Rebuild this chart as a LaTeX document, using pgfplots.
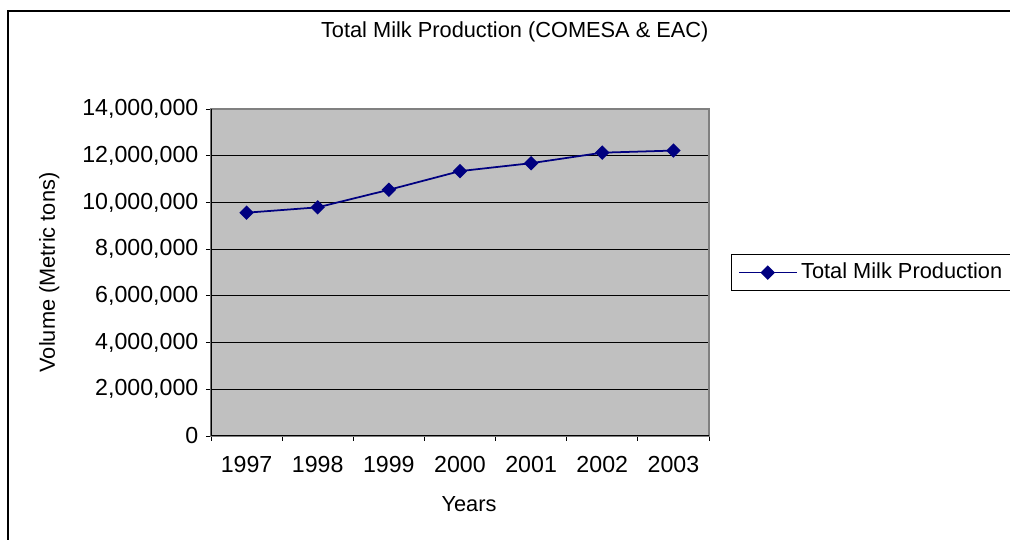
\documentclass[border=0pt]{standalone}
\usepackage{pgfplots}
\pgfplotsset{compat=1.18}
\usepackage{fontspec}
\setmainfont{Liberation Sans}
\definecolor{navy}{RGB}{0,0,128}
\definecolor{plotgray}{RGB}{192,192,192}
\begin{document}
\begin{tikzpicture}
\fontsize{12.4}{14}\selectfont
\useasboundingbox (0,0) rectangle (20.2cm,10.8cm);
\clip (0,0) rectangle (20.2cm,10.8cm);
% outer chart frame (cut at right and bottom)
\draw[line width=1.1pt] (0.16cm,-0.2cm) -- (0.16cm,10.58cm) -- (20.6cm,10.58cm);
\begin{axis}[at={(4.22cm,2.08cm)},anchor=south west,scale only axis,
  width=9.96cm,height=6.54cm,
  xmin=0.5,xmax=7.5,ymin=0,ymax=14000000,
  axis background/.style={fill=plotgray},
  axis line style={draw=gray,line width=0.6pt},
  xtick={0.5,1.5,...,7.5},xticklabels={},
  extra x ticks={1,...,7},
  extra x tick labels={1997,1998,1999,2000,2001,2002,2003},
  extra x tick style={major tick length=0pt},
  ytick={0,2000000,...,14000000},
  scaled y ticks=false,
  ticklabel style={font=\fontsize{13.2}{15}\selectfont},
  yticklabel style={/pgf/number format/.cd,fixed,1000 sep={,},assume math mode=true},
  xticklabel style={/pgf/number format/assume math mode=true,yshift=-7pt},
  tick align=outside,major tick length=0.1cm,
  tick style={black,line width=0.5pt},
  xtick pos=bottom,ytick pos=left,
  ymajorgrids,major grid style={black,line width=0.5pt},
  title={Total Milk Production (COMESA \& EAC)},
  title style={at={(axis description cs:0.610,1.205)},anchor=center},
  xlabel={Years},
  xlabel style={at={(axis description cs:0.518,-0.208)},anchor=center},
  ylabel={Volume (Metric tons)},
  ylabel style={at={(axis description cs:-0.325,0.5)},anchor=center,rotate=0},
  legend style={at={(axis description cs:1.044,0.557)},anchor=north west,
    draw=black,line width=0.5pt,inner xsep=4pt,inner ysep=3pt,legend cell align=left,
    /tikz/every even column/.append style={column sep=3pt}},
  legend image code/.code={
    \draw[#1,mark=none] (0cm,0cm) -- (1.15cm,0cm);
    \draw[#1,only marks] plot coordinates {(0.57cm,0cm)};},
]
\addplot[navy,line width=1pt,mark=square*,mark size=2.4pt,
  mark options={rotate=45,fill=navy,draw=navy}] coordinates {
  (1,9560000) (2,9790000) (3,10540000) (4,11340000)
  (5,11680000) (6,12130000) (7,12220000)};
\addlegendentry{Total Milk Production}
\draw[black,line width=0.6pt] (rel axis cs:0,1) -- (rel axis cs:0,0) -- (rel axis cs:1,0);
\end{axis}
\end{tikzpicture}
\end{document}
